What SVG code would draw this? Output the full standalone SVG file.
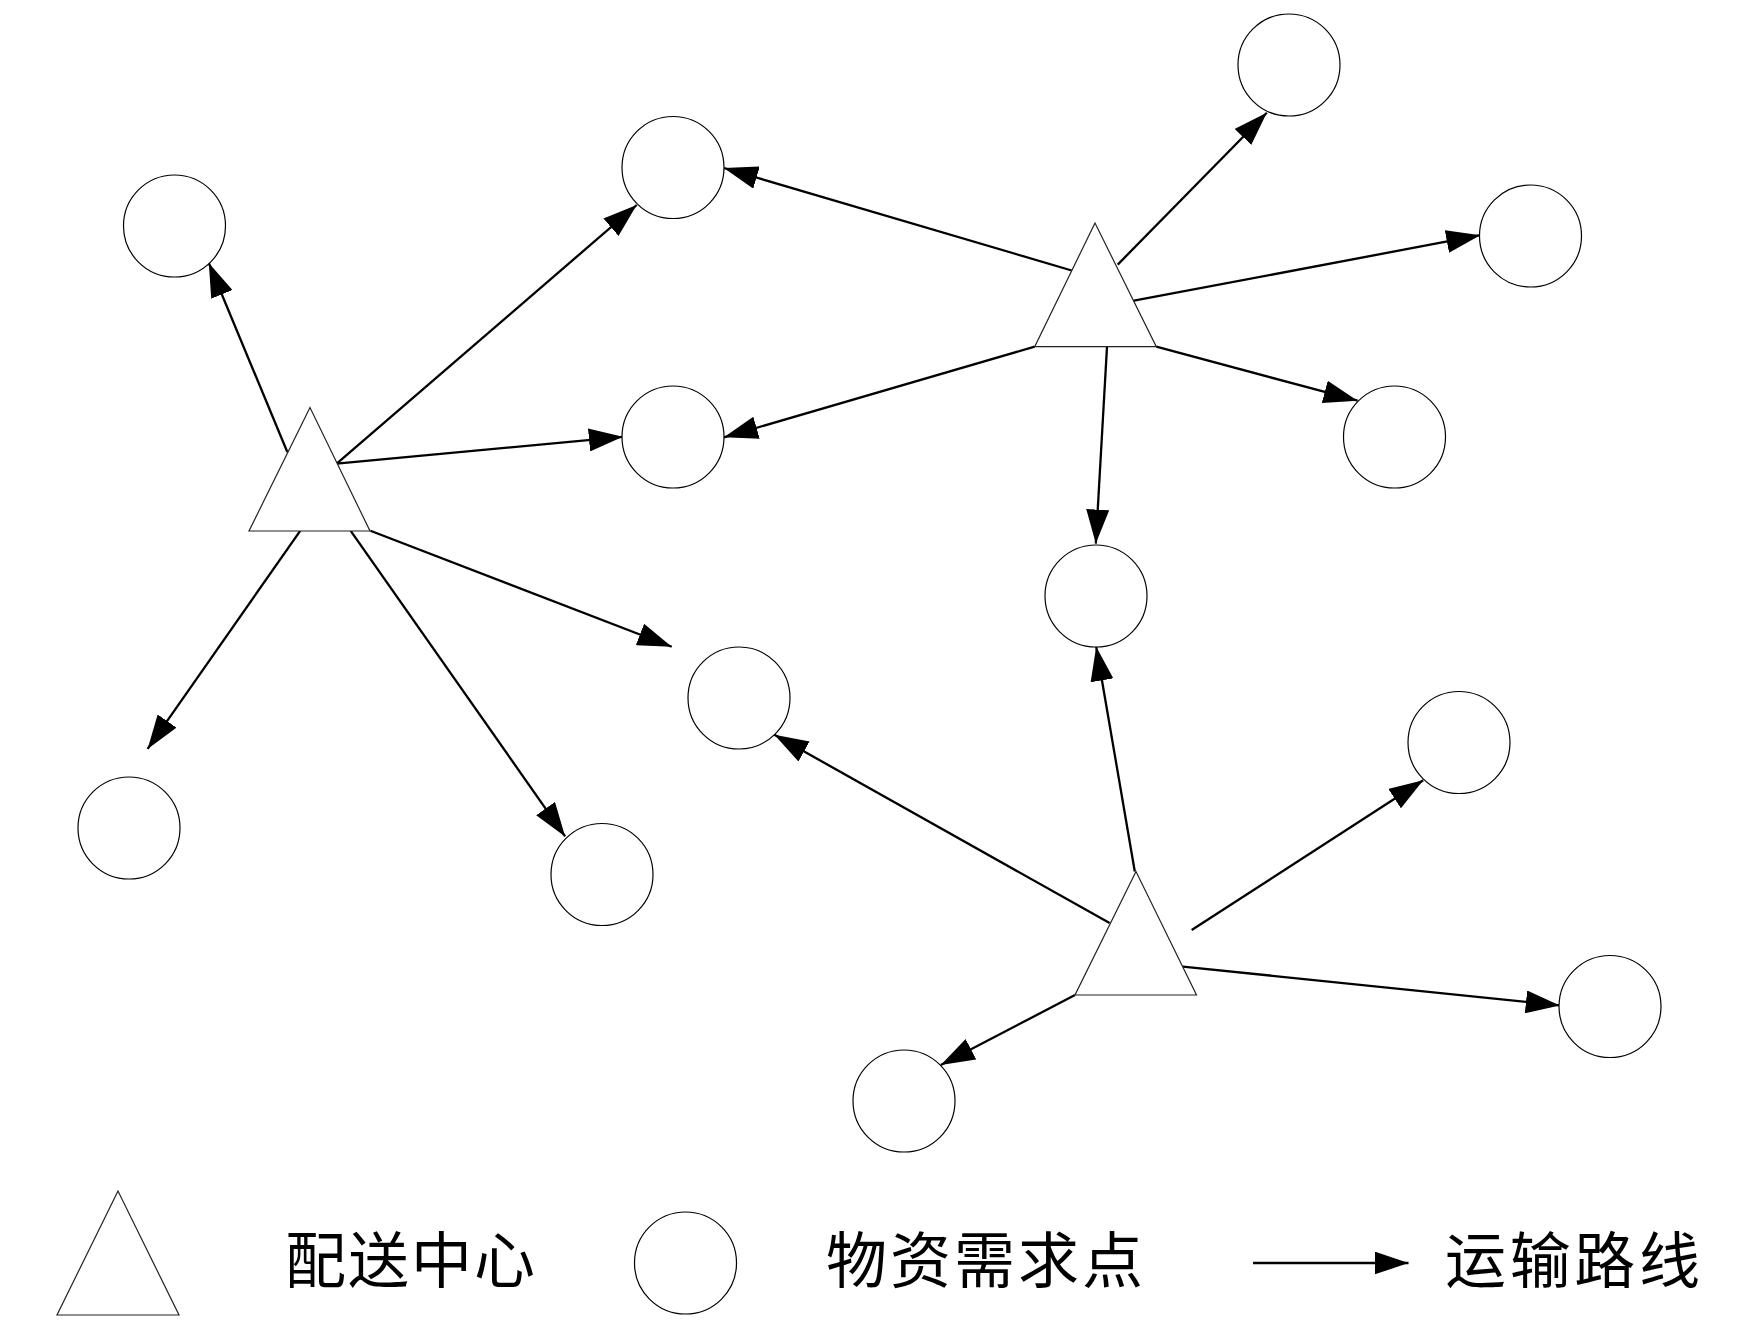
<svg xmlns="http://www.w3.org/2000/svg" width="1759" height="1334" viewBox="0 0 1759 1334">
<style>
.node{fill:#fff;stroke:#000;stroke-width:1.2}
.tri{fill:#fff;stroke:#222;stroke-width:1.2}
.edge{fill:none;stroke:#000;stroke-width:2.3;marker-end:url(#arr)}
.lbl{font-family:"Noto Sans CJK SC","Noto Sans CJK JP",sans-serif;font-size:61px;fill:#000}
</style>
<defs>
<marker id="arr" viewBox="0 0 34 23" refX="34" refY="11.5" markerWidth="34" markerHeight="23" markerUnits="userSpaceOnUse" orient="auto">
<path d="M0,0 L34,11.5 L0,23 z" fill="#000"/>
</marker>
</defs>
<rect width="1759" height="1334" fill="#fff"/>
<g id="connectors">
<line class="edge" x1="287.3" y1="452" x2="208.8" y2="263"/>
<line class="edge" x1="336.7" y1="463.6" x2="636.7" y2="205"/>
<line class="edge" x1="336.7" y1="463.6" x2="622.9" y2="436.8"/>
<line class="edge" x1="370.4" y1="530.8" x2="671.7" y2="646.7"/>
<line class="edge" x1="300.2" y1="530.8" x2="147.6" y2="748.9"/>
<line class="edge" x1="350.7" y1="530.8" x2="565.1" y2="836.4"/>
<line class="edge" x1="1071.7" y1="270.5" x2="723.9" y2="168"/>
<line class="edge" x1="1034.7" y1="346.7" x2="723.9" y2="437.3"/>
<line class="edge" x1="1117.7" y1="264.6" x2="1266.8" y2="112.7"/>
<line class="edge" x1="1133.9" y1="300.7" x2="1480.3" y2="235.2"/>
<line class="edge" x1="1156.3" y1="346.7" x2="1357.6" y2="400.7"/>
<line class="edge" x1="1107" y1="346.7" x2="1095.8" y2="543.6"/>
<line class="edge" x1="1134.8" y1="871.5" x2="1096.2" y2="646.8"/>
<line class="edge" x1="1109.6" y1="923" x2="774.4" y2="734.8"/>
<line class="edge" x1="1191.7" y1="930" x2="1423.2" y2="780.2"/>
<line class="edge" x1="1182.9" y1="966.6" x2="1559.8" y2="1005.4"/>
<line class="edge" x1="1075" y1="995.1" x2="940.8" y2="1064.9"/>
</g>
<g id="center-left"><polygon class="tri" points="310,407.5 249,531 370,531"/></g>
<g id="center-top"><polygon class="tri" points="1095,223 1034.7,346.7 1156.3,346.7"/></g>
<g id="center-bottom"><polygon class="tri" points="1136,871.5 1075,995 1196.5,995"/></g>
<g id="p1"><circle class="node" cx="174.5" cy="226" r="51"/></g>
<g id="p2"><circle class="node" cx="673" cy="167.5" r="51"/></g>
<g id="p3"><circle class="node" cx="1289" cy="65" r="51"/></g>
<g id="p4"><circle class="node" cx="1530.5" cy="236" r="51"/></g>
<g id="p5"><circle class="node" cx="673" cy="437" r="51"/></g>
<g id="p6"><circle class="node" cx="1394.5" cy="437" r="51"/></g>
<g id="p7"><circle class="node" cx="1096" cy="596" r="51"/></g>
<g id="p8"><circle class="node" cx="739" cy="698" r="51"/></g>
<g id="p9"><circle class="node" cx="1459" cy="742.5" r="51"/></g>
<g id="p10"><circle class="node" cx="129" cy="828" r="51"/></g>
<g id="p11"><circle class="node" cx="602" cy="874.5" r="51"/></g>
<g id="p12"><circle class="node" cx="1610" cy="1006.5" r="51"/></g>
<g id="p13"><circle class="node" cx="904" cy="1101" r="51"/></g>
<g id="legend">
<polygon class="tri" points="118,1191 57,1315 179,1315"/>
<text class="lbl" x="285" y="1283" textLength="250" lengthAdjust="spacing">配送中心</text>
<circle class="node" cx="685.5" cy="1263" r="51"/>
<text class="lbl" x="826" y="1283" textLength="317" lengthAdjust="spacing">物资需求点</text>
<line class="edge" x1="1253" y1="1263" x2="1408.5" y2="1263"/>
<text class="lbl" x="1445" y="1283" textLength="255" lengthAdjust="spacing">运输路线</text>
</g>
</svg>
